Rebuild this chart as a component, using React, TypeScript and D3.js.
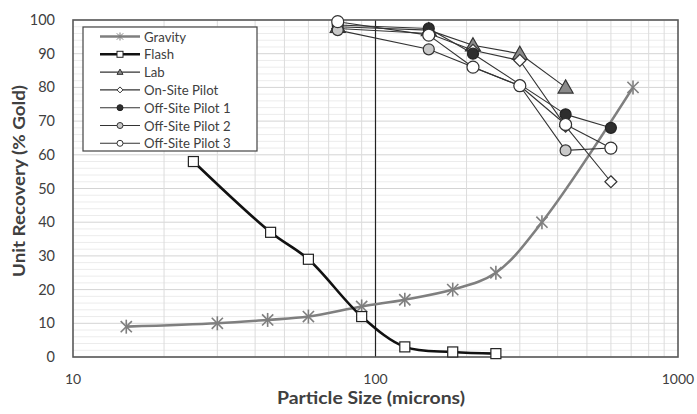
import React from "react";
import * as d3 from "d3";

const W = 697;
const H = 414;

const gravityX = [15, 30, 44, 60, 90, 125, 180, 250, 355, 710];
const gravityY = [9, 10, 11, 12, 15, 17, 20, 25, 40, 80];
const flashX = [25, 45, 60, 90, 125, 180, 250];
const flashY = [58, 37, 29, 12, 3, 1.5, 1];
const labX = [75, 150, 210, 300, 425];
const labY = [98, 97, 92.5, 90, 80];
const onSiteX = [75, 150, 210, 300, 425, 600];
const onSiteY = [97.5, 96, 91, 88, 68.5, 52];
const pilot1X = [75, 150, 210, 425, 600];
const pilot1Y = [98.5, 97.5, 90, 72, 68];
const pilot2X = [75, 150, 300, 425, 600];
const pilot2Y = [97, 91.3, 80.5, 61.3, 62];
const pilot3X = [75, 150, 210, 300, 425, 600];
const pilot3Y = [99.5, 95.5, 86, 80.5, 69, 62];

const seriesNames = ["Gravity", "Flash", "Lab", "On-Site Pilot", "Off-Site Pilot 1", "Off-Site Pilot 2", "Off-Site Pilot 3"];
const yTicks = [0, 10, 20, 30, 40, 50, 60, 70, 80, 90, 100];
const xTicks = [10, 100, 1000];

type Marker = "star" | "square" | "triangle" | "diamond" | "circle";

interface Series {
  name: string;
  xs: number[];
  ys: number[];
  color: string;
  width: number;
  smooth: boolean;
  marker: Marker;
  fill: string;
  mstroke: string;
  size: number;
}

const series: Series[] = [
  { name: seriesNames[0], xs: gravityX, ys: gravityY, color: "#7f7f7f", width: 2.6, smooth: true, marker: "star", fill: "none", mstroke: "#7f7f7f", size: 7 },
  { name: seriesNames[1], xs: flashX, ys: flashY, color: "#111", width: 2.6, smooth: true, marker: "square", fill: "#fff", mstroke: "#222", size: 5 },
  { name: seriesNames[2], xs: labX, ys: labY, color: "#333", width: 1.1, smooth: false, marker: "triangle", fill: "#8a8a8a", mstroke: "#333", size: 7.5 },
  { name: seriesNames[3], xs: onSiteX, ys: onSiteY, color: "#333", width: 1.1, smooth: false, marker: "diamond", fill: "#fff", mstroke: "#333", size: 6 },
  { name: seriesNames[4], xs: pilot1X, ys: pilot1Y, color: "#333", width: 1.1, smooth: false, marker: "circle", fill: "#2e2e2e", mstroke: "#222", size: 5.5 },
  { name: seriesNames[5], xs: pilot2X, ys: pilot2Y, color: "#333", width: 1.1, smooth: false, marker: "circle", fill: "#c9c9c9", mstroke: "#333", size: 5.5 },
  { name: seriesNames[6], xs: pilot3X, ys: pilot3Y, color: "#333", width: 1.1, smooth: false, marker: "circle", fill: "#fff", mstroke: "#333", size: 6 },
];

const L = 73, R = 678, T = 20, B = 357;
const x = d3.scaleLog().domain([10, 1000]).range([L, R]);
const y = d3.scaleLinear().domain([0, 100]).range([B, T]);

function MarkerShape({ m, cx, cy, s, fill, stroke, sw }: { m: Marker; cx: number; cy: number; s: number; fill: string; stroke: string; sw: number }) {
  if (m === "circle") return <circle cx={cx} cy={cy} r={s} fill={fill} stroke={stroke} strokeWidth={sw} />;
  if (m === "square") return <rect x={cx - s} y={cy - s} width={2 * s} height={2 * s} fill={fill} stroke={stroke} strokeWidth={sw} />;
  if (m === "diamond") return <path d={`M${cx},${cy - s}L${cx + s},${cy}L${cx},${cy + s}L${cx - s},${cy}Z`} fill={fill} stroke={stroke} strokeWidth={sw} />;
  if (m === "triangle") return <path d={`M${cx},${cy - s}L${cx + s},${cy + s * 0.75}L${cx - s},${cy + s * 0.75}Z`} fill={fill} stroke={stroke} strokeWidth={sw} />;
  const d = s * 0.8;
  return (
    <g stroke={stroke} strokeWidth={sw} fill="none">
      <line x1={cx - d} y1={cy - d} x2={cx + d} y2={cy + d} />
      <line x1={cx - d} y1={cy + d} x2={cx + d} y2={cy - d} />
      <line x1={cx} y1={cy - s} x2={cx} y2={cy + s} />
    </g>
  );
}

export default function App() {
  const font = "Lato, 'Open Sans', sans-serif";
  const hGrid = d3.range(0, 101, 2);
  const vGrid: number[] = [];
  [10, 100].forEach((base) => {
    for (let k = 2; k <= 9; k++) vGrid.push(base * k);
  });
  const line = (s: Series) => {
    const gen = d3
      .line<[number, number]>()
      .x((d) => x(d[0]))
      .y((d) => y(d[1]))
      .curve(s.smooth ? d3.curveCatmullRom.alpha(0.5) : d3.curveLinear);
    return gen(s.xs.map((v, i) => [v, s.ys[i]] as [number, number])) || "";
  };
  const legX = 83, legY = 27, legW = 174, legH = 124;
  return (
    <svg width={W} height={H} style={{ position: "absolute", left: 0, top: 0, background: "#fff" }}>
      <rect x={0} y={0} width={W} height={H} fill="#fff" />
      {hGrid.map((v) => (
        <line key={"h" + v} x1={L} x2={R} y1={y(v)} y2={y(v)} stroke={v % 10 === 0 ? "#d4d4d4" : "#ececec"} strokeWidth={1} />
      ))}
      {vGrid.map((v) => (
        <line key={"v" + v} x1={x(v)} x2={x(v)} y1={T} y2={B} stroke="#dcdcdc" strokeWidth={1} />
      ))}
      <line x1={x(100)} x2={x(100)} y1={T} y2={B} stroke="#222" strokeWidth={1.2} />
      <rect x={L} y={T} width={R - L} height={B - T} fill="none" stroke="#595959" strokeWidth={1.6} />
      {series.map((s) => (
        <g key={s.name}>
          <path d={line(s)} fill="none" stroke={s.color} strokeWidth={s.width} strokeLinejoin="round" />
          {s.xs.map((v, i) => (
            <MarkerShape key={i} m={s.marker} cx={x(v)} cy={y(s.ys[i])} s={s.size} fill={s.fill} stroke={s.mstroke} sw={s.marker === "star" ? 1.6 : 1.2} />
          ))}
        </g>
      ))}
      {yTicks.map((v) => (
        <text key={"yt" + v} x={55} y={y(v) + 5} textAnchor="end" fontFamily={font} fontSize={14.5} fill="#404040">
          {v}
        </text>
      ))}
      {xTicks.map((v) => (
        <text key={"xt" + v} x={x(v)} y={384} textAnchor="middle" fontFamily={font} fontSize={14} fill="#404040">
          {v}
        </text>
      ))}
      <text x={371} y={404} textAnchor="middle" fontFamily={font} fontSize={16.5} fontWeight="bold" fill="#404040" textLength={188} lengthAdjust="spacingAndGlyphs">
        Particle Size (microns)
      </text>
      <text transform={`translate(25,181) rotate(-90)`} textAnchor="middle" fontFamily={font} fontSize={17} fontWeight="bold" fill="#404040" textLength={192} lengthAdjust="spacingAndGlyphs">
        Unit Recovery (% Gold)
      </text>
      <rect x={legX} y={legY} width={legW} height={legH} fill="#fff" stroke="#444" strokeWidth={1.2} />
      {series.map((s, i) => {
        const cy = 36.5 + i * 17.8;
        return (
          <g key={"leg" + s.name}>
            <line x1={100} x2={140} y1={cy} y2={cy} stroke={s.color} strokeWidth={s.width > 2 ? 2.4 : 1.1} />
            <MarkerShape m={s.marker} cx={120} cy={cy} s={s.marker === "star" ? 4 : 3} fill={s.fill} stroke={s.mstroke} sw={1} />
            <text x={144} y={cy + 5} fontFamily={font} fontSize={13.2} fill="#404040">
              {s.name}
            </text>
          </g>
        );
      })}
    </svg>
  );
}
